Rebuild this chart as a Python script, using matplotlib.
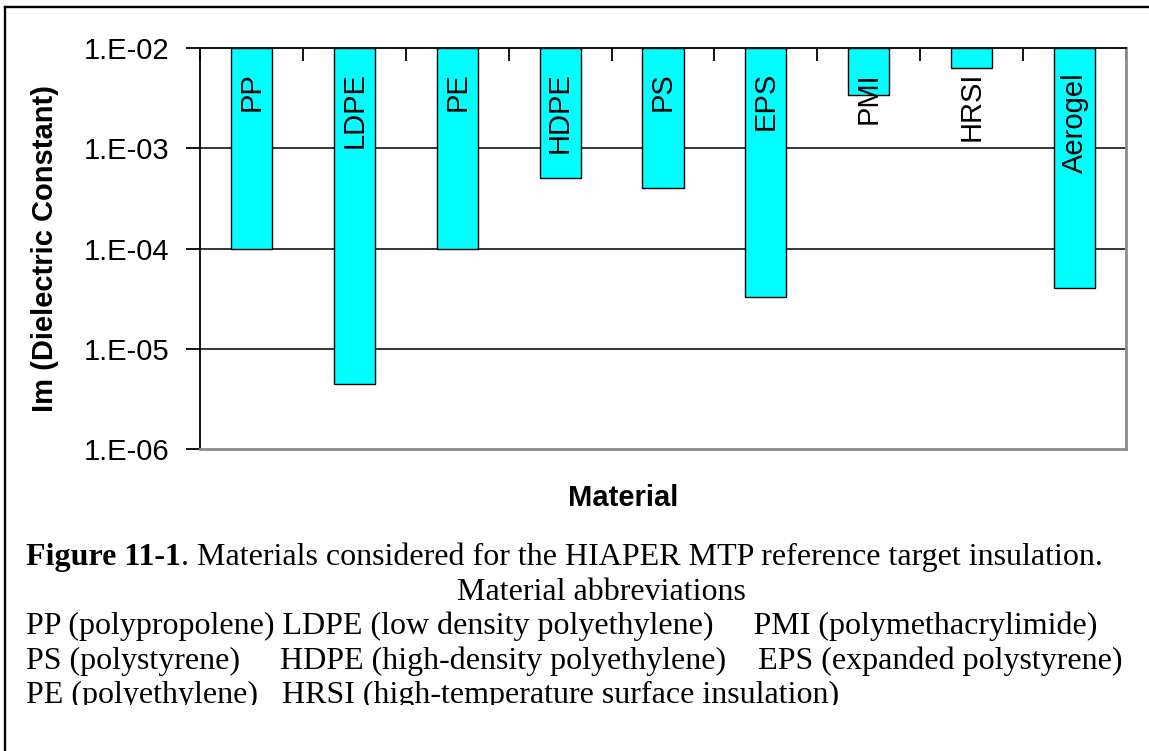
import matplotlib
matplotlib.use("Agg")
import matplotlib.pyplot as plt
from matplotlib.lines import Line2D
from matplotlib.transforms import Bbox, TransformedBbox
from matplotlib.ticker import FixedLocator, FuncFormatter, NullLocator
import numpy as np

# Im(eps) per insulation material
materials = ["PP", "LDPE", "PE", "HDPE", "PS", "EPS", "PMI", "HRSI", "Aerogel"]
im_eps = [1.0e-4, 4.5e-6, 1.0e-4, 5.0e-4, 4.0e-4, 3.3e-5, 3.4e-3, 6.3e-3, 4.0e-5]
y_ticks = [1e-6, 1e-5, 1e-4, 1e-3, 1e-2]

caption_bold = "Figure 11-1"
caption_rest = ". Materials considered for the HIAPER MTP reference target insulation."
abbrev_title = "Material abbreviations"
abbrev_lines = [
    "PP (polypropolene) LDPE (low density polyethylene)     PMI (polymethacrylimide)",
    "PS (polystyrene)     HDPE (high-density polyethylene)    EPS (expanded polystyrene)",
    "PE (polyethylene)   HRSI (high-temperature surface insulation)",
]

W, H = 1149, 751
fig = plt.figure(figsize=(W / 100, H / 100), dpi=100)
fig.patch.set_facecolor("white")

sans = "Liberation Sans"
serif = "Liberation Serif"

# plot area in pixel coordinates
x0, x1, y0, y1 = 200, 1126, 48, 449
ax = fig.add_axes([x0 / W, 1 - y1 / H, (x1 - x0) / W, (y1 - y0) / H])
ax.set_yscale("log")
top = 1e-2
ax.set_ylim(1e-6, top)
ax.set_xlim(-0.5, len(materials) - 0.5)

x = np.arange(len(materials))
vals = np.array(im_eps)
# bars hang from the category axis at 1E-02
ax.bar(x, top - vals, bottom=vals, width=0.4, color="#00FFFF",
       edgecolor="black", linewidth=1.0, zorder=3)

for xi, name in zip(x, materials):
    ax.annotate(name, xy=(xi, top), xytext=(0, -24), textcoords="offset pixels",
                rotation=90, ha="center", va="top", fontsize=21,
                family=sans, color="black", zorder=4)

# horizontal gridlines
for yv in y_ticks[1:-1]:
    ax.axhline(yv, color="black", linewidth=1.1, zorder=1)

ax.yaxis.set_major_locator(FixedLocator(y_ticks))
ax.yaxis.set_minor_locator(NullLocator())
ax.yaxis.set_major_formatter(FuncFormatter(lambda v, p: "1.E-%02d" % round(-np.log10(v))))
ax.tick_params(axis="y", which="major", direction="out", length=10, width=1.3,
               color="black", pad=12, labelsize=21)
for lab in ax.get_yticklabels():
    lab.set_family(sans)

# category boundary ticks along the top axis
ax.xaxis.set_ticks_position("top")
ax.set_xticks(np.arange(len(materials) + 1) - 0.5)
ax.set_xticklabels([])
ax.tick_params(axis="x", which="major", direction="in", length=9, width=1.3,
               color="black")

ax.spines["top"].set_color("black")
ax.spines["top"].set_linewidth(1.3)
ax.spines["left"].set_color("black")
ax.spines["left"].set_linewidth(1.3)
ax.spines["right"].set_color("#8c8c8c")
ax.spines["right"].set_linewidth(2.0)
ax.spines["bottom"].set_color("#8c8c8c")
ax.spines["bottom"].set_linewidth(2.0)

fig.text(45 / W, 1 - 248.5 / H, "Im (Dielectric Constant)", rotation=90,
         ha="center", va="center", fontsize=21, fontweight="bold", family=sans)
fig.text(623 / W, 1 - 498 / H, "Material", ha="center", va="center",
         fontsize=21, fontweight="bold", family=sans)

# caption block
cap_size = 23
t1 = fig.text(26 / W, 1 - 565 / H, caption_bold, ha="left", va="baseline",
              fontsize=cap_size, fontweight="bold", family=serif)
ax.annotate(caption_rest, xy=(1, 0), xycoords=t1, ha="left", va="bottom",
            fontsize=cap_size, family=serif, annotation_clip=False)
fig.text(601 / W, 1 - 600 / H, abbrev_title, ha="center", va="baseline",
         fontsize=cap_size, family=serif)

# the page ends just below the last baseline
keep = TransformedBbox(Bbox([[0, 1 - 705 / H], [1, 1]]), fig.transFigure)
baselines = [634, 669, 703]
for line, yb in zip(abbrev_lines, baselines):
    t = fig.text(26 / W, 1 - yb / H, line, ha="left", va="baseline",
                 fontsize=cap_size, family=serif)
    t.set_clip_box(keep)
    t.set_clip_on(True)

# page frame: top and left edges
fig.add_artist(Line2D([5 / W, 1], [1 - 6.5 / H, 1 - 6.5 / H],
                      transform=fig.transFigure, color="black", linewidth=1.7))
fig.add_artist(Line2D([5 / W, 5 / W], [0, 1 - 6.5 / H],
                      transform=fig.transFigure, color="black", linewidth=1.7))

fig.savefig("out.png", dpi=100, facecolor="white")
